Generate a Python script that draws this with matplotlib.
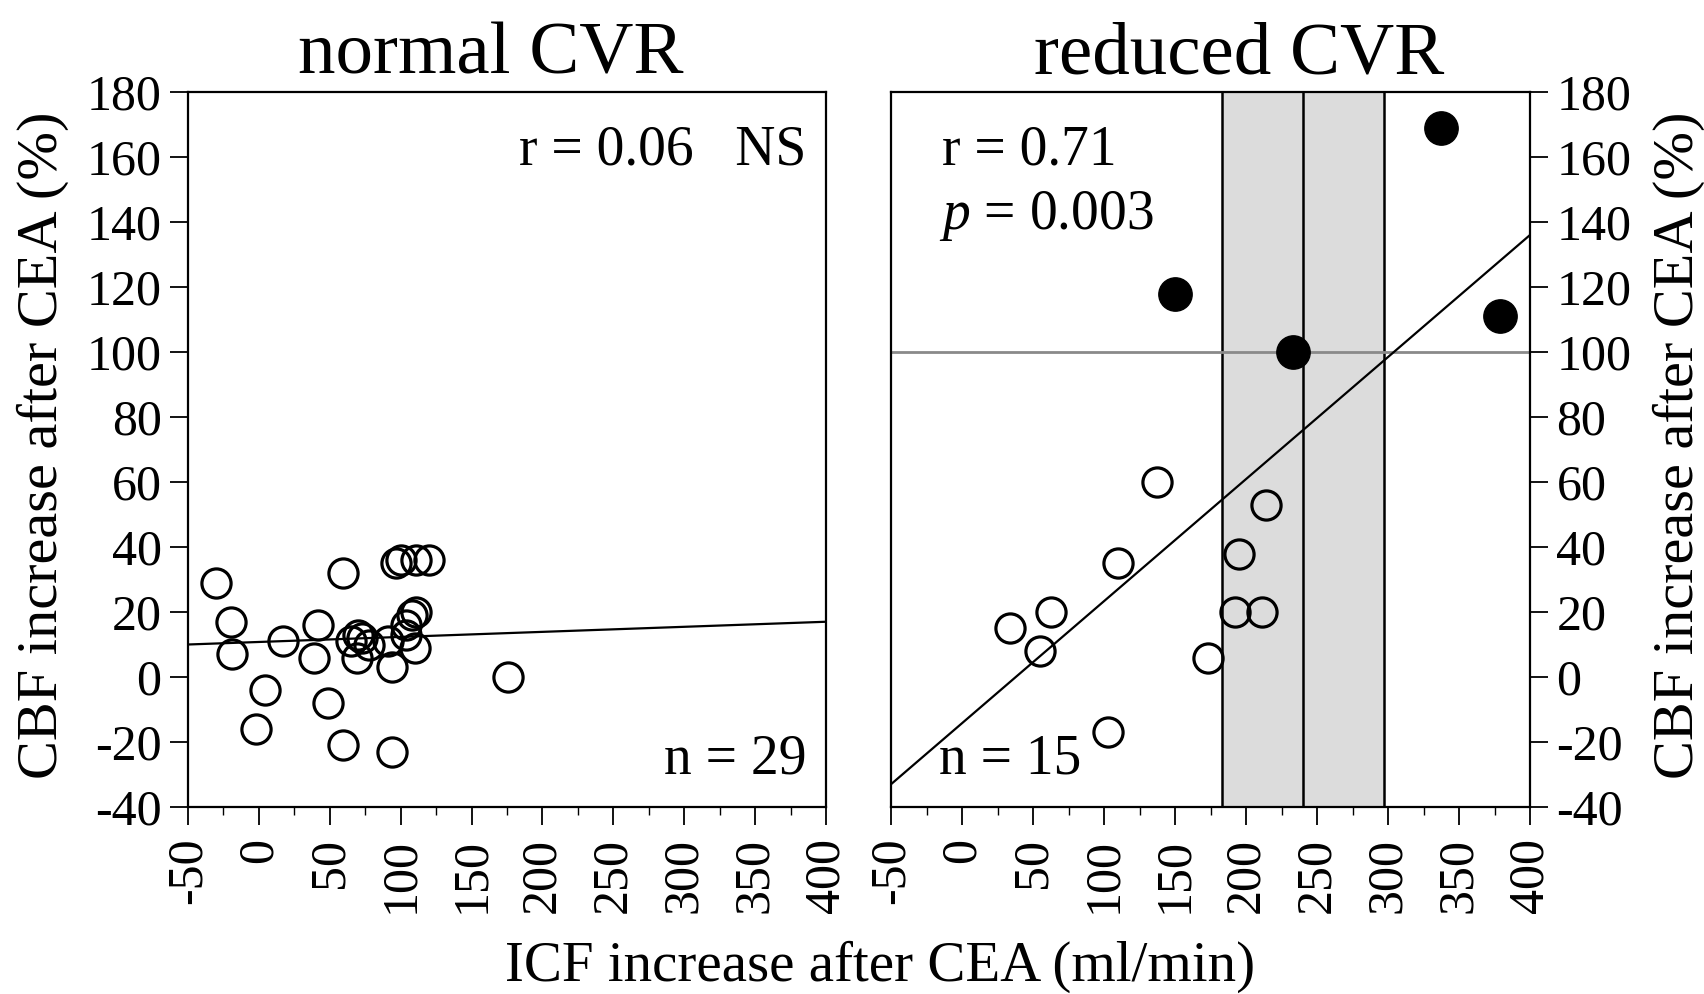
import matplotlib
matplotlib.use("Agg")
import matplotlib.pyplot as plt
from matplotlib.ticker import MultipleLocator
import numpy as np

plt.rcParams['font.family'] = ['Liberation Serif', 'DejaVu Serif']
plt.rcParams['axes.unicode_minus'] = False
plt.rcParams['mathtext.fontset'] = 'custom'
plt.rcParams['mathtext.rm'] = 'Liberation Serif'
plt.rcParams['mathtext.it'] = 'Liberation Serif:italic'

# ---------------- data ----------------
normal_x = [-30, -20, -19, 4, -2, 17, 42, 39, 59, 49, 59,
            65, 70, 73, 69, 78, 94, 94, 91, 110,
            97, 100, 111, 120, 111, 108, 104, 104, 176]
normal_y = [29, 17, 7, -4, -16, 11, 16, 6, 32, -8, -21,
            11, 13, 12, 6, 10, 3, -23, 11, 9,
            35, 36, 36, 36, 20, 19, 16, 13, 0]

reduced_open_x = [34, 55, 63, 103, 110, 137, 173, 192, 195, 211, 214]
reduced_open_y = [15, 8, 20, -17, 35, 60, 6, 20, 38, 20, 53]
reduced_filled_x = [150, 233, 337, 379]
reduced_filled_y = [118, 100, 169, 111]

fit_x = [-50, 400]
normal_fit_y = [10, 17]
reduced_fit_y = [-33, 136]

band_lo, band_mid, band_hi = 183, 240, 297
ref_level = 100

x_ticks = [-50, 0, 50, 100, 150, 200, 250, 300, 350, 400]
y_ticks = [-40, -20, 0, 20, 40, 60, 80, 100, 120, 140, 160, 180]

# ---------------- figure ----------------
W, H = 1704, 994
fig = plt.figure(figsize=(W / 100, H / 100), dpi=100)

def fx(px):
    return px / W

def fy(py):
    return 1 - py / H

ax1 = fig.add_axes([fx(188), fy(807), fx(826 - 188), (807 - 92) / H])
ax2 = fig.add_axes([fx(891), fy(807), fx(1530 - 891), (807 - 92) / H])

tick_fs = 36
ann_fs = 40
lw = 1.6

for ax in (ax1, ax2):
    ax.set_xlim(-50, 400)
    ax.set_ylim(-40, 180)
    ax.set_xticks(x_ticks)
    ax.set_xticklabels([str(v) for v in x_ticks], rotation=90, fontsize=tick_fs)
    ax.xaxis.set_minor_locator(MultipleLocator(25))
    ax.set_yticks(y_ticks)
    ax.set_yticklabels([str(v) for v in y_ticks], fontsize=tick_fs)
    ax.tick_params(axis='x', which='major', direction='out', length=13, width=1.3, pad=9)
    ax.tick_params(axis='x', which='minor', direction='out', length=6, width=1.0)
    ax.tick_params(axis='y', which='major', direction='out', length=13, width=1.3, pad=6)
    for s in ax.spines.values():
        s.set_linewidth(lw)

# left panel
ax1.plot(fit_x, normal_fit_y, color='black', lw=1.6, zorder=2)
ax1.plot(normal_x, normal_y, 'o', ms=21, mfc='none', mec='black', mew=2.3, zorder=3)
ax1.text(0.97, 0.955, 'r = 0.06   NS', transform=ax1.transAxes, ha='right', va='top', fontsize=ann_fs)
ax1.text(0.97, 0.03, 'n = 29', transform=ax1.transAxes, ha='right', va='bottom', fontsize=ann_fs)

# right panel
ax2.axvspan(band_lo, band_hi, color='#dcdcdc', zorder=0, lw=0)
for v in (band_lo, band_mid, band_hi):
    ax2.axvline(v, color='black', lw=1.8, zorder=1)
ax2.axhline(ref_level, color='#8a8a8a', lw=2.0, zorder=1)
ax2.plot(fit_x, reduced_fit_y, color='black', lw=1.6, zorder=2)
ax2.plot(reduced_open_x, reduced_open_y, 'o', ms=21, mfc='none', mec='black', mew=2.3, zorder=3)
ax2.plot(reduced_filled_x, reduced_filled_y, 'o', ms=24, mfc='black', mec='black', zorder=3)
ax2.yaxis.tick_right()
ax2.yaxis.set_label_position('right')
ax2.tick_params(axis='y', which='major', direction='out', length=13, width=1.3, pad=6,
                left=False, right=True, labelleft=False, labelright=True)
ax2.text(0.08, 0.955, 'r = 0.71', transform=ax2.transAxes, ha='left', va='top', fontsize=ann_fs)
ax2.text(0.075, 0.865, '$\\mathit{p}$ = 0.003', transform=ax2.transAxes, ha='left', va='top', fontsize=ann_fs)
ax2.text(0.075, 0.03, 'n = 15', transform=ax2.transAxes, ha='left', va='bottom', fontsize=ann_fs)

# titles and labels
fig.text(fx(491), fy(74), 'normal CVR', ha='center', va='baseline', fontsize=54)
fig.text(fx(1239), fy(74), 'reduced CVR', ha='center', va='baseline', fontsize=54)
fig.text(fx(43), fy(445), 'CBF increase after CEA (%)', rotation=90, ha='center', va='center', fontsize=42)
fig.text(fx(1679), fy(445), 'CBF increase after CEA (%)', rotation=90, ha='center', va='center', fontsize=42)
fig.text(fx(880), fy(967), 'ICF increase after CEA (ml/min)', ha='center', va='center', fontsize=41)

fig.savefig('out.png', dpi=100, facecolor='white')
